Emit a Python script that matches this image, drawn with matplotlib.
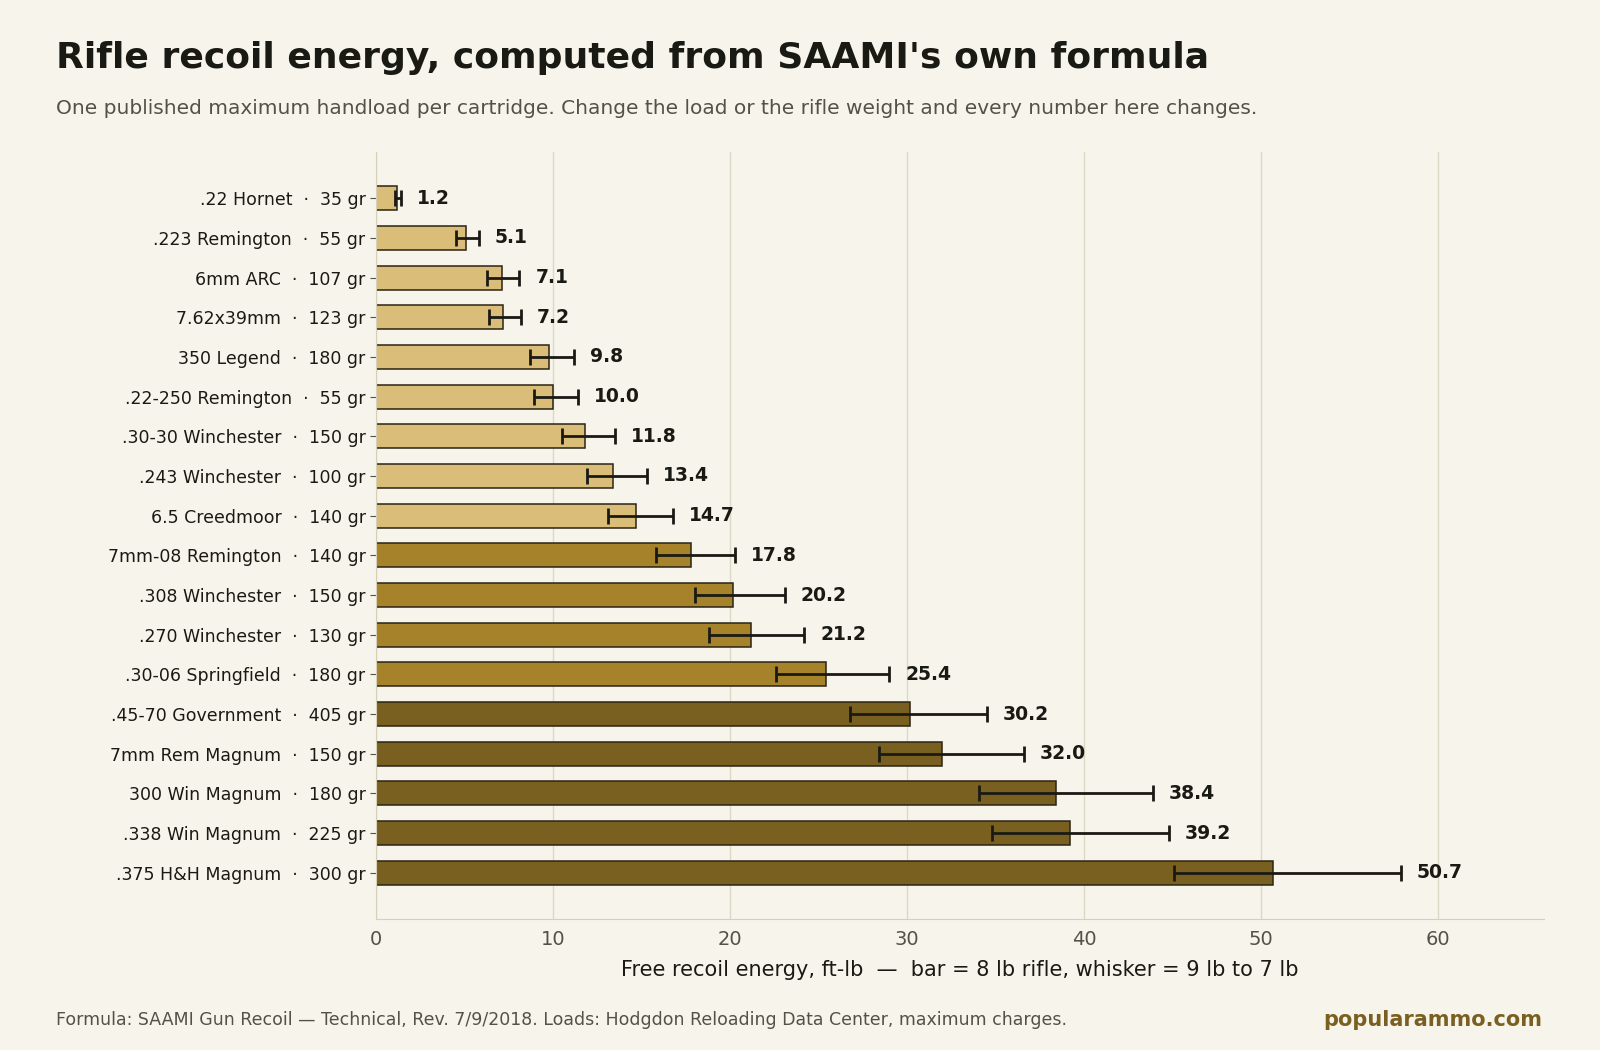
import matplotlib.pyplot as plt
import numpy as np

# cartridge labels, energy at 8 lb rifle, whisker ends (9 lb / 7 lb)
cartridges = [".22 Hornet  ·  35 gr", ".223 Remington  ·  55 gr", "6mm ARC  ·  107 gr",
              "7.62x39mm  ·  123 gr", "350 Legend  ·  180 gr", ".22-250 Remington  ·  55 gr",
              ".30-30 Winchester  ·  150 gr", ".243 Winchester  ·  100 gr", "6.5 Creedmoor  ·  140 gr",
              "7mm-08 Remington  ·  140 gr", ".308 Winchester  ·  150 gr", ".270 Winchester  ·  130 gr",
              ".30-06 Springfield  ·  180 gr", ".45-70 Government  ·  405 gr", "7mm Rem Magnum  ·  150 gr",
              "300 Win Magnum  ·  180 gr", ".338 Win Magnum  ·  225 gr", ".375 H&H Magnum  ·  300 gr"]
energy = [1.2, 5.1, 7.1, 7.2, 9.8, 10.0, 11.8, 13.4, 14.7, 17.8, 20.2, 21.2, 25.4, 30.2, 32.0, 38.4, 39.2, 50.7]
low = [1.1, 4.5, 6.3, 6.4, 8.7, 8.9, 10.5, 11.9, 13.1, 15.8, 18.0, 18.8, 22.6, 26.8, 28.4, 34.1, 34.8, 45.1]
high = [1.4, 5.8, 8.1, 8.2, 11.2, 11.4, 13.5, 15.3, 16.8, 20.3, 23.1, 24.2, 29.0, 34.5, 36.6, 43.9, 44.8, 57.9]

BG = "#f7f4ec"
def color_for(e):
    if e < 15:
        return "#dbbd7a"
    if e < 28:
        return "#a6822b"
    return "#7a6020"

fig = plt.figure(figsize=(16, 10.5), dpi=100, facecolor=BG)
ax = fig.add_axes([0.235, 0.125, 0.73, 0.73], facecolor=BG)
y = np.arange(len(energy))
ax.barh(y, energy, height=0.6, color=[color_for(e) for e in energy],
        edgecolor="#2a2414", linewidth=1.1, zorder=2)
e = np.array(energy)
ax.errorbar(e, y, xerr=[e - np.array(low), np.array(high) - e], fmt="none",
            ecolor="#1a1a14", elinewidth=2, capsize=6, capthick=2, zorder=3)
for yi, ev, hi in zip(y, energy, high):
    ax.text(hi + 0.9, yi, f"{ev:.1f}", va="center", ha="left", fontsize=13.5,
            fontweight="bold", color="#1a1a14")
ax.set_yticks(y)
ax.set_yticklabels(cartridges, fontsize=12.5, color="#1a1a14")
ax.set_ylim(18.16, -1.16)
ax.set_xlim(0, 66)
ax.set_xticks(range(0, 61, 10))
ax.tick_params(axis="x", labelsize=14, colors="#555048", length=0, pad=8)
ax.tick_params(axis="y", length=4, color="#555048")
ax.grid(axis="x", color="#dcd8c4", linewidth=1, zorder=0)
for s in ["top", "right"]:
    ax.spines[s].set_visible(False)
for s in ["left", "bottom"]:
    ax.spines[s].set_color("#d6d0b8")
ax.set_xlabel("Free recoil energy, ft-lb  —  bar = 8 lb rifle, whisker = 9 lb to 7 lb",
              fontsize=15, color="#1a1a14", labelpad=8)

fig.text(0.035, 0.945, "Rifle recoil energy, computed from SAAMI's own formula",
         fontsize=26, fontweight="bold", color="#1a1a14", va="center")
fig.text(0.035, 0.897, "One published maximum handload per cartridge. Change the load or the rifle weight and every number here changes.",
         fontsize=14.5, color="#555048", va="center")
fig.text(0.035, 0.029, "Formula: SAAMI Gun Recoil — Technical, Rev. 7/9/2018. Loads: Hodgdon Reloading Data Center, maximum charges.",
         fontsize=12.5, color="#555048", va="center")
fig.text(0.964, 0.029, "popularammo.com", fontsize=15, fontweight="bold", color="#7a6020",
         va="center", ha="right")
fig.savefig("out.png", facecolor=BG)
